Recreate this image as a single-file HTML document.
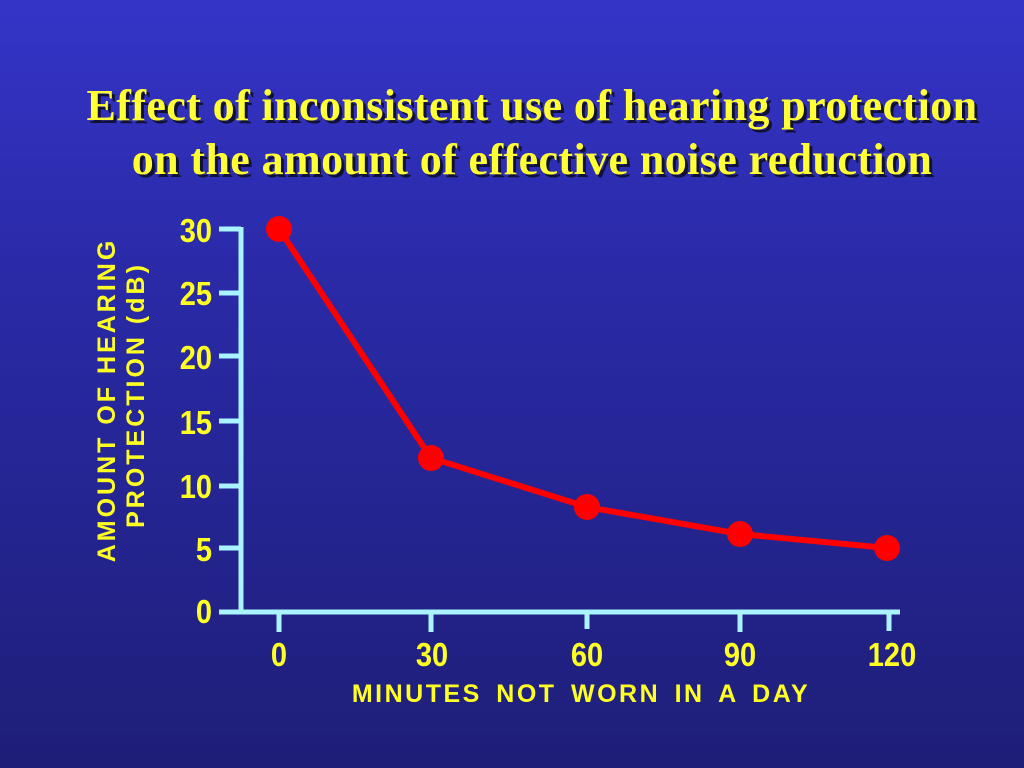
<!DOCTYPE html>
<html><head><style>
html,body{margin:0;padding:0}
body{width:1024px;height:768px;overflow:hidden;background:linear-gradient(#3434c8 0%,#2a2aa8 35%,#1e1e78 100%);position:relative}
.t{position:absolute;left:20px;width:1024px;text-align:center;font-family:"Liberation Serif",serif;font-weight:bold;font-size:44px;letter-spacing:0.4px;color:#ffff33;text-shadow:3px 3px 0 #111133;white-space:nowrap}
</style></head><body>
<div class="t" style="top:80px">Effect of inconsistent use of hearing protection</div>
<div class="t" style="top:134px">on the amount of effective noise reduction</div>
<svg width="1024" height="768" style="position:absolute;left:0;top:0" font-family="Liberation Sans, sans-serif" font-weight="bold" fill="#ffff22">
<g stroke="#aaf4ff" stroke-width="5" fill="none">
<line x1="241" y1="227" x2="241" y2="612"/>
<line x1="219" y1="612" x2="900" y2="612"/>
<line x1="219" y1="229" x2="241" y2="229"/>
<line x1="219" y1="293" x2="241" y2="293"/>
<line x1="219" y1="356" x2="241" y2="356"/>
<line x1="219" y1="421" x2="241" y2="421"/>
<line x1="219" y1="486" x2="241" y2="486"/>
<line x1="219" y1="548" x2="241" y2="548"/>
<line x1="279" y1="610" x2="279" y2="632"/>
<line x1="431" y1="610" x2="431" y2="632"/>
<line x1="587" y1="610" x2="587" y2="629"/>
<line x1="740" y1="610" x2="740" y2="632"/>
<line x1="889" y1="610" x2="889" y2="631"/>
</g>
<g font-size="33" text-anchor="end">
<g transform="translate(212,0) scale(0.88,1)">
<text x="0" y="242">30</text><text x="0" y="305">25</text><text x="0" y="369">20</text>
<text x="0" y="434">15</text><text x="0" y="498">10</text><text x="0" y="561">5</text><text x="0" y="623">0</text>
</g></g>
<g font-size="33" text-anchor="middle">
<text transform="translate(279,666) scale(0.88,1)">0</text>
<text transform="translate(432,666) scale(0.88,1)">30</text>
<text transform="translate(587,666) scale(0.88,1)">60</text>
<text transform="translate(740,666) scale(0.88,1)">90</text>
<text transform="translate(892,666) scale(0.88,1)">120</text>
</g>
<text x="581" y="702" font-size="25" text-anchor="middle" letter-spacing="2.5" word-spacing="5">MINUTES NOT  WORN IN A DAY</text>
<g font-size="25" text-anchor="middle" letter-spacing="3">
<text transform="translate(115,400) rotate(-90)">AMOUNT OF HEARING</text>
<text transform="translate(144,395) rotate(-90)">PROTECTION (dB)</text>
</g>
<polyline points="279,229 431,458 587,507 740,534 887,548" fill="none" stroke="#ff0000" stroke-width="6"/>
<g fill="#ff0000">
<circle cx="279" cy="229" r="13"/><circle cx="431" cy="458" r="13"/><circle cx="587" cy="507" r="13"/>
<circle cx="740" cy="534" r="13"/><circle cx="887" cy="548" r="13"/>
</g>
</svg>
</body></html>
